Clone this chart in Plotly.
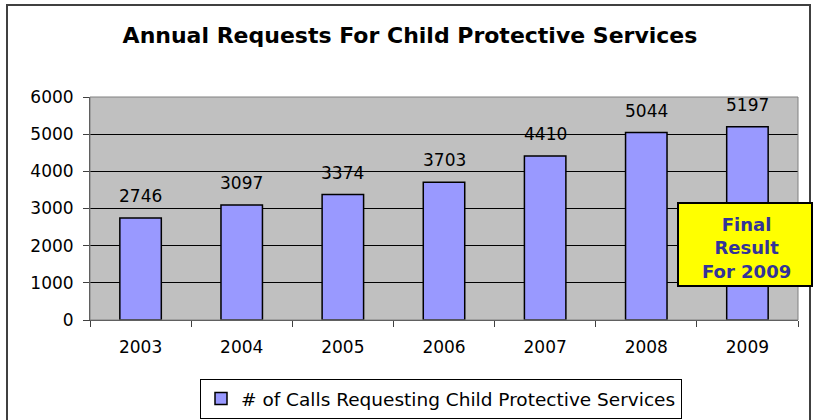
import plotly.graph_objects as go

years = ["2003", "2004", "2005", "2006", "2007", "2008", "2009"]
calls = [2746, 3097, 3374, 3703, 4410, 5044, 5197]
series_name = "# of Calls Requesting Child Protective Services"
title_text = "Annual Requests For Child Protective Services"
note_text = "Final<br>Result<br>For 2009"

FONT = "DejaVu Sans"
L, R, T, B = 90, 798, 97, 320
W, H = 822, 420
pw, ph = R - L, B - T

def px(x):
    return (x - L) / pw

def py(y):
    return (B - y) / ph

fig = go.Figure()
fig.add_trace(go.Bar(
    x=years, y=calls, name=series_name,
    marker=dict(color="#9999FF", line=dict(color="black", width=1.5)),
    showlegend=True,
))

for i, v in enumerate(calls):
    fig.add_annotation(x=i, y=v, text=str(v), showarrow=False, yshift=22,
                       xanchor="center", yanchor="middle",
                       font=dict(family=FONT, size=17, color="black"))

fig.update_layout(
    width=W, height=H,
    margin=dict(l=L, r=W - R, t=T, b=H - B, autoexpand=False),
    paper_bgcolor="white", plot_bgcolor="#C0C0C0",
    bargap=0.59,
    font=dict(family=FONT, size=17, color="black"),
    title=dict(text="<b>" + title_text + "</b>", x=px(410), xref="paper", xanchor="center",
               y=1 - 35 / H, yanchor="middle",
               font=dict(family=FONT, size=22, color="black")),
    showlegend=True,
    legend=dict(x=px(441), y=py(399), xanchor="center", yanchor="middle",
                orientation="h", bordercolor="black", borderwidth=1,
                bgcolor="white", font=dict(family=FONT, size=18.5), itemwidth=30),
    xaxis=dict(type="category", categoryorder="array", categoryarray=years,
               range=[-0.5, len(years) - 0.5],
               showgrid=False, showline=True, linecolor="#404040", linewidth=1,
               ticks="outside", tickson="boundaries", ticklen=6, tickcolor="#404040",
               tickfont=dict(family=FONT, size=17), ticklabelstandoff=12),
    yaxis=dict(range=[0, 6000], dtick=1000, showgrid=True, gridcolor="black", gridwidth=1,
               showline=True, linecolor="#404040", linewidth=1, ticks="outside",
               ticklen=6, tickcolor="#404040", zeroline=False,
               tickfont=dict(family=FONT, size=17), ticklabelstandoff=6),
)

# outer frame
fig.add_shape(type="rect", xref="paper", yref="paper",
              x0=px(7), x1=px(810), y0=py(430), y1=py(5),
              line=dict(color="#404040", width=2), fillcolor="rgba(0,0,0,0)", layer="below")
# plot area border
fig.add_shape(type="rect", xref="paper", yref="paper", x0=0, x1=1, y0=0, y1=1,
              line=dict(color="#808080", width=1), fillcolor="rgba(0,0,0,0)", layer="above")

# yellow note box
fig.add_shape(type="rect", xref="paper", yref="paper",
              x0=px(678), x1=px(812), y0=py(286), y1=py(203),
              line=dict(color="black", width=2), fillcolor="#FFFF00", layer="above")
fig.add_annotation(xref="paper", yref="paper", x=px(746), y=py(247.5),
                   text="<b>" + note_text + "</b>", showarrow=False,
                   font=dict(family=FONT, size=18, color="#333399"),
                   align="center", xanchor="center", yanchor="middle")

fig.write_html("out.html")
